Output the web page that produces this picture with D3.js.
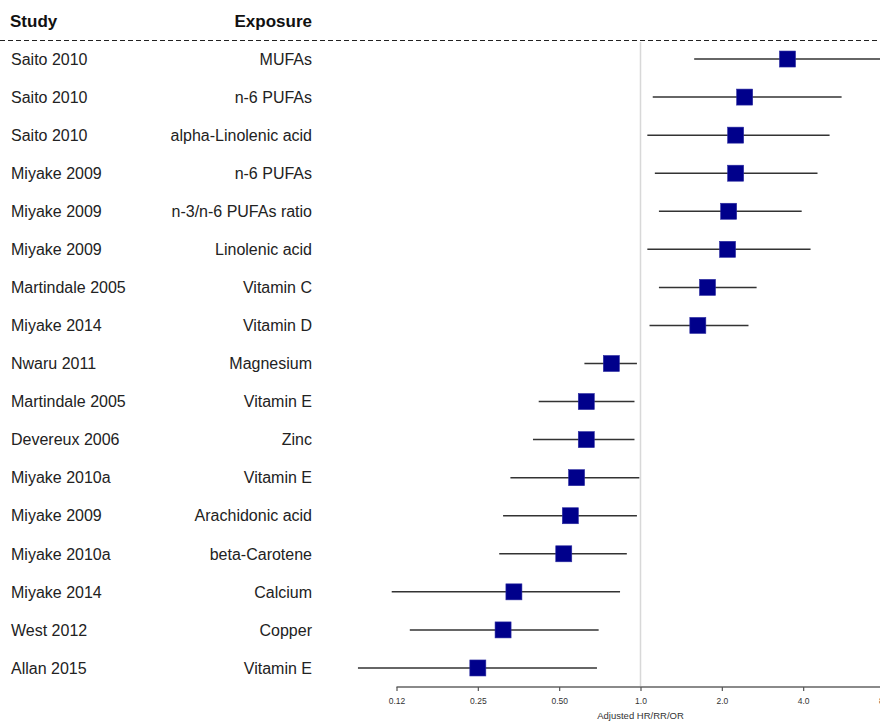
<!DOCTYPE html>
<html>
<head>
<meta charset="utf-8">
<script src="https://cdn.jsdelivr.net/npm/d3@7"></script>
<style>
  html, body { margin: 0; padding: 0; background: #fff; }
  svg { display: block; font-family: "Liberation Sans", Arial, sans-serif; }
</style>
</head>
<body>
<svg id="chart" width="880" height="722"></svg>
<script>
// Study and exposure for each row, top to bottom
const studies = [
  "Saito 2010", "Saito 2010", "Saito 2010", "Miyake 2009", "Miyake 2009",
  "Miyake 2009", "Martindale 2005", "Miyake 2014", "Nwaru 2011",
  "Martindale 2005", "Devereux 2006", "Miyake 2010a", "Miyake 2009",
  "Miyake 2010a", "Miyake 2014", "West 2012", "Allan 2015"
];
const exposures = [
  "MUFAs", "n-6 PUFAs", "alpha-Linolenic acid", "n-6 PUFAs", "n-3/n-6 PUFAs ratio",
  "Linolenic acid", "Vitamin C", "Vitamin D", "Magnesium",
  "Vitamin E", "Zinc", "Vitamin E", "Arachidonic acid",
  "beta-Carotene", "Calcium", "Copper", "Vitamin E"
];
// Adjusted effect estimates with lower / upper confidence limits
const estimates = [3.50, 2.43, 2.25, 2.25, 2.12, 2.10, 1.77, 1.63, 0.78, 0.63, 0.63, 0.58, 0.55, 0.52, 0.34, 0.31, 0.25];
const lower     = [1.58, 1.11, 1.06, 1.13, 1.17, 1.06, 1.17, 1.08, 0.62, 0.42, 0.40, 0.33, 0.31, 0.30, 0.12, 0.14, 0.09];
const upper     = [10.0, 5.55, 5.01, 4.52, 3.95, 4.26, 2.69, 2.51, 0.97, 0.95, 0.95, 0.99, 0.97, 0.89, 0.84, 0.70, 0.69];
// Axis ticks and their printed labels
const tickValues = [0.125, 0.25, 0.5, 1, 2, 4, 8];
const tickLabels = ["0.12", "0.25", "0.50", "1.0", "2.0", "4.0", "8.0"];

const svg = d3.select("#chart");
const W = 880;

const rows = studies.map((s, i) => ({
  study: s, exposure: exposures[i], est: estimates[i], lo: lower[i], hi: upper[i], i
}));

const x = d3.scaleLog().base(2).domain([0.125, 8]).range([396.5, 884.5]);
const y = d3.scaleBand().domain(d3.range(rows.length)).range([40, 687]).paddingInner(0).paddingOuter(0);
const yc = i => y(i) + y.bandwidth() / 2;

// Column headers
svg.append("text").attr("x", 10).attr("y", 27).attr("font-size", 17).attr("font-weight", "bold")
  .attr("fill", "#111").text("Study");
svg.append("text").attr("x", 312).attr("y", 27).attr("font-size", 17).attr("font-weight", "bold")
  .attr("text-anchor", "end").attr("fill", "#111").text("Exposure");

// Dashed separator under the headers
svg.append("line").attr("x1", 0).attr("x2", W).attr("y1", 40.5).attr("y2", 40.5)
  .attr("stroke", "#222").attr("stroke-width", 1.2).attr("stroke-dasharray", "5,3");

// Reference line at no effect
svg.append("line").attr("x1", x(1)).attr("x2", x(1)).attr("y1", 42).attr("y2", 687)
  .attr("stroke", "#d8d8d8").attr("stroke-width", 1.5);

// Row labels
const labels = svg.append("g").attr("font-size", 16).attr("fill", "#222");
labels.selectAll("text.study").data(rows).join("text").attr("class", "study")
  .attr("x", 11).attr("y", d => yc(d.i)).attr("dy", "0.36em").text(d => d.study);
labels.selectAll("text.exp").data(rows).join("text").attr("class", "exp")
  .attr("x", 312).attr("y", d => yc(d.i)).attr("dy", "0.36em").attr("text-anchor", "end")
  .text(d => d.exposure);

// Confidence intervals
const marks = svg.append("g");
marks.selectAll("line.ci").data(rows).join("line").attr("class", "ci")
  .attr("x1", d => x(d.lo)).attr("x2", d => Math.min(x(d.hi), W + 10))
  .attr("y1", d => yc(d.i)).attr("y2", d => yc(d.i))
  .attr("stroke", "#333").attr("stroke-width", 1.5);

// Point estimates
const s = 16;
marks.selectAll("rect.pt").data(rows).join("rect").attr("class", "pt")
  .attr("x", d => x(d.est) - s / 2).attr("y", d => yc(d.i) - s / 2)
  .attr("width", s).attr("height", s)
  .attr("fill", "#00008b").attr("stroke", "#2a2aa0").attr("stroke-width", 0.6);

// Bottom axis
const axisY = 687;
const axis = d3.axisBottom(x).tickValues(tickValues)
  .tickFormat((d, i) => tickLabels[i]).tickSize(4).tickSizeOuter(0);
const ag = svg.append("g").attr("transform", `translate(0,${axisY})`).call(axis);
ag.select(".domain").attr("stroke", "#8a8a8a").attr("stroke-width", 1.8);
ag.selectAll(".tick line").attr("stroke", "#555").attr("stroke-width", 1.2);
ag.selectAll(".tick text").attr("font-size", 8.5).attr("fill", "#333")
  .attr("font-family", "Liberation Sans, Arial, sans-serif").attr("y", 11).attr("dy", "0.71em");
ag.select(".domain").attr("d", `M${x(0.125)},0H${W + 10}`);

// Axis title
svg.append("text").attr("x", x(1)).attr("y", 719).attr("text-anchor", "middle")
  .attr("font-size", 9.5).attr("fill", "#333").text("Adjusted HR/RR/OR");
</script>
</body>
</html>
